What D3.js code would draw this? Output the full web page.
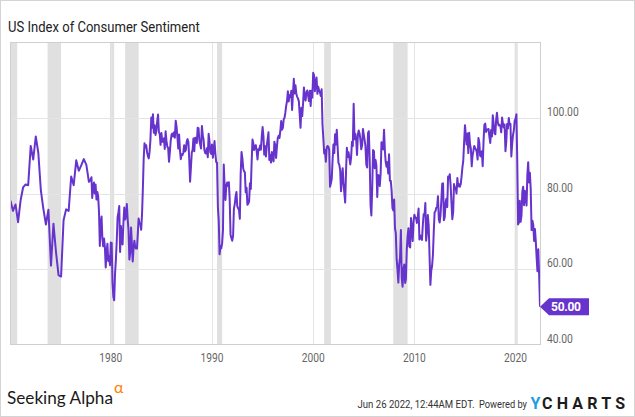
<!DOCTYPE html>
<html>
<head>
<meta charset="utf-8">
<script src="https://cdn.jsdelivr.net/npm/d3@7"></script>
<style>
  body { margin: 0; background: #fff; }
  svg { display: block; font-family: Roboto, "Open Sans", sans-serif; }
</style>
</head>
<body>
<div id="chart"></div>
<script>
// quarterly readings (Feb, May, Aug, Nov), 1970-1977
var q1970s = [
  78.1, 75.4, 77.1, 72.4,
  78.2, 81.6, 82.4, 82.2,
  92.6, 89.0, 95.1, 90.8,
  80.8, 76.0, 71.8, 75.7,
  60.9, 72.0, 64.5, 58.4,
  58.0, 72.9, 75.8, 75.4,
  84.5, 82.2, 88.8, 86.0,
  87.5, 89.1, 87.6, 83.1
];

// monthly, Jan 1978 - Dec 1989
var m1978 = [
  83.7, 84.3, 78.8, 81.6, 82.9, 80.0, 82.4, 78.4, 80.4, 79.3, 75.0, 66.1,
  72.1, 73.9, 68.4, 66.0, 68.1, 65.8, 60.4, 64.5, 66.7, 62.1, 63.3, 61.0,
  67.0, 66.9, 56.5, 52.7, 51.7, 58.7, 62.3, 67.3, 73.7, 75.0, 76.7, 64.5,
  71.4, 66.9, 66.5, 72.4, 76.3, 73.1, 74.1, 77.2, 73.1, 70.3, 62.5, 64.3,
  71.0, 66.5, 62.0, 65.5, 67.5, 65.7, 65.4, 65.4, 69.3, 73.4, 72.1, 71.9,
  70.4, 74.6, 80.8, 89.1, 93.3, 92.2, 92.8, 90.9, 89.9, 89.3, 91.1, 94.2,
  100.1, 97.4, 101.0, 96.1, 98.1, 95.5, 96.6, 99.1, 100.9, 96.3, 95.7, 92.9,
  96.0, 93.7, 93.7, 94.6, 91.8, 96.5, 94.0, 92.4, 92.1, 88.4, 90.9, 93.9,
  95.6, 95.9, 95.1, 96.2, 94.8, 99.3, 97.7, 94.9, 91.9, 95.6, 91.4, 89.1,
  90.4, 90.2, 90.8, 92.8, 91.1, 91.5, 93.7, 94.4, 93.6, 89.3, 83.1, 86.8,
  90.8, 91.6, 94.6, 91.2, 94.8, 94.7, 93.4, 97.4, 97.3, 94.1, 93.0, 91.9,
  97.9, 95.4, 94.3, 91.5, 90.7, 90.6, 92.0, 89.6, 95.8, 93.9, 90.9, 90.5
];

// monthly, Jan 1990 - Dec 1999
var m1990 = [
  93.0, 89.5, 91.3, 93.9, 90.6, 88.3, 88.2, 76.4, 72.8, 63.9, 66.0, 65.5,
  66.8, 70.4, 87.7, 81.8, 78.3, 82.1, 82.9, 82.0, 83.0, 78.3, 69.1, 68.2,
  67.5, 68.8, 76.0, 77.2, 79.2, 80.4, 76.6, 76.1, 75.6, 73.3, 85.3, 91.0,
  89.3, 86.6, 85.9, 85.6, 80.3, 81.5, 77.0, 77.3, 77.9, 82.7, 81.2, 88.2,
  94.3, 93.2, 91.5, 92.6, 92.8, 91.2, 89.0, 91.7, 91.5, 92.7, 91.6, 95.1,
  97.6, 95.1, 90.3, 92.5, 89.8, 92.7, 94.4, 96.2, 88.9, 90.2, 88.2, 91.0,
  89.3, 88.5, 93.7, 92.7, 89.4, 92.4, 94.7, 95.3, 94.7, 96.5, 99.2, 96.9,
  97.4, 99.7, 100.0, 101.4, 103.2, 104.5, 107.1, 104.4, 106.0, 105.6, 107.2, 102.1,
  106.6, 110.4, 106.5, 108.7, 106.5, 105.6, 105.2, 104.4, 100.9, 97.4, 102.7, 100.5,
  103.9, 108.1, 105.7, 104.6, 106.8, 107.3, 106.0, 104.5, 107.2, 103.2, 107.2, 105.4
];

// monthly, Jan 2000 - Dec 2009
var m2000 = [
  112.0, 111.3, 107.1, 109.2, 110.7, 106.4, 108.3, 107.3, 106.8, 105.8, 107.6, 98.4,
  94.7, 90.6, 91.5, 88.4, 92.0, 92.6, 92.4, 91.5, 81.8, 82.7, 83.9, 88.8,
  93.0, 90.7, 95.7, 93.0, 96.9, 92.4, 88.1, 87.6, 86.1, 80.6, 84.2, 86.7,
  82.4, 79.9, 77.6, 86.0, 92.1, 89.7, 90.9, 89.3, 87.7, 89.6, 93.7, 92.6,
  103.8, 94.4, 95.8, 94.2, 90.2, 95.6, 96.7, 95.9, 94.2, 91.7, 92.8, 97.1,
  95.5, 94.1, 92.6, 87.7, 86.9, 96.0, 96.5, 89.1, 76.9, 74.2, 81.6, 91.5,
  91.2, 86.7, 88.9, 87.4, 79.1, 84.9, 84.7, 82.0, 85.4, 93.6, 92.1, 91.7,
  96.9, 91.3, 88.4, 87.1, 88.3, 85.3, 90.4, 83.4, 83.4, 80.9, 76.1, 75.5,
  78.4, 70.8, 69.5, 62.6, 59.8, 56.4, 61.2, 63.0, 70.3, 57.6, 55.3, 60.1,
  61.2, 56.3, 57.3, 65.1, 68.7, 70.8, 66.0, 65.7, 73.5, 70.6, 67.4, 72.5
];

// monthly, Jan 2010 - Jun 2022
var m2010 = [
  74.4, 73.6, 73.6, 72.2, 73.6, 76.0, 67.8, 68.9, 68.2, 67.7, 71.6, 74.5,
  74.2, 77.5, 67.5, 69.8, 74.3, 71.5, 63.7, 55.8, 59.5, 60.8, 63.7, 69.9,
  75.0, 75.3, 76.2, 76.4, 79.3, 73.2, 72.3, 74.3, 78.3, 82.6, 82.7, 72.9,
  73.8, 77.6, 78.6, 76.4, 84.5, 84.1, 85.1, 82.1, 77.5, 73.2, 75.1, 82.5,
  81.2, 81.6, 80.0, 84.1, 81.9, 82.5, 81.8, 82.5, 84.6, 86.9, 88.8, 93.6,
  98.1, 95.4, 93.0, 95.9, 90.7, 96.1, 93.1, 91.9, 87.2, 90.0, 91.3, 92.6,
  92.0, 91.7, 91.0, 89.0, 94.7, 93.5, 90.0, 89.8, 91.2, 87.2, 93.8, 98.2,
  98.5, 96.3, 96.9, 97.0, 97.1, 95.0, 93.4, 96.8, 95.1, 100.7, 98.5, 95.9,
  95.7, 99.7, 101.4, 98.8, 98.0, 98.2, 97.9, 96.2, 100.1, 98.6, 97.5, 98.3,
  91.2, 93.8, 98.4, 97.2, 100.0, 98.2, 98.4, 89.8, 93.2, 95.5, 96.8, 99.3,
  99.8, 101.0, 89.1, 71.8, 72.3, 78.1, 72.5, 74.1, 80.4, 81.8, 76.9, 80.7,
  79.0, 76.8, 84.9, 88.3, 82.9, 85.5, 81.2, 70.3, 72.8, 71.7, 67.4, 70.6,
  67.2, 62.8, 59.4, 65.2, 58.4, 50.0
];

var recessions = [
  ["1969-12", "1970-10"],
  ["1973-10", "1975-02"],
  ["1979-12", "1980-05"],
  ["1981-06", "1982-10"],
  ["1990-07", "1991-01"],
  ["2001-02", "2001-10"],
  ["2007-12", "2009-05"],
  ["2019-12", "2020-03"]
];

var yTicks = [40, 60, 80, 100];
var xTickYears = [1980, 1990, 2000, 2010, 2020];

var parse = d3.timeParse("%Y-%m");

function series(start, step, vals) {
  var s = parse(start);
  return vals.map(function (v, i) {
    return { date: d3.timeMonth.offset(s, i * step), value: v };
  });
}

// squeeze text a bit, the original uses a narrower face
function condense(sel, k) {
  sel.each(function () {
    var w = this.getComputedTextLength();
    d3.select(this).attr("textLength", w * k).attr("lengthAdjust", "spacingAndGlyphs");
  });
}

// place text at x,y and scale it horizontally to a given width
function fitText(parent, str, px, py, width, attrs) {
  var t = parent.append("text").text(str);
  Object.keys(attrs).forEach(function (k) { t.attr(k, attrs[k]); });
  var w = t.node().getComputedTextLength();
  t.attr("transform", "translate(" + px + "," + py + ") scale(" + (width / w) + ",1)");
  return t;
}

var data = [].concat(
  series("1970-02", 3, q1970s),
  series("1978-01", 1, m1978),
  series("1990-01", 1, m1990),
  series("2000-01", 1, m2000),
  series("2010-01", 1, m2010)
);

var W = 635, H = 417;
var pL = 10.5, pR = 540, pT = 42.5, pB = 344.5;

var svg = d3.select("#chart").append("svg").attr("width", W).attr("height", H);

svg.append("rect")
  .attr("x", 0.5).attr("y", 0.5).attr("width", W - 1).attr("height", H - 1)
  .attr("fill", "#fff").attr("stroke", "#d4d4d4");

var x = d3.scaleTime()
  .domain([data[0].date, data[data.length - 1].date])
  .range([pL, pR]);
var y = d3.scaleLinear().domain([40, 120]).range([pB, pT]);

svg.append("clipPath").attr("id", "plot")
  .append("rect").attr("x", pL).attr("y", pT)
  .attr("width", pR - pL).attr("height", pB - pT);

var g = svg.append("g").attr("clip-path", "url(#plot)");

g.selectAll("rect.rec").data(recessions).join("rect")
  .attr("class", "rec")
  .attr("x", function (d) { return x(parse(d[0])); })
  .attr("width", function (d) { return Math.max(3, x(parse(d[1])) - x(parse(d[0]))); })
  .attr("y", pT).attr("height", pB - pT)
  .attr("fill", "#e0e0e0");

var xTicks = xTickYears.map(function (yr) { return new Date(yr, 0, 1); });

g.selectAll("line.vg").data(xTicks).join("line")
  .attr("x1", function (d) { return Math.round(x(d)) + 0.5; })
  .attr("x2", function (d) { return Math.round(x(d)) + 0.5; })
  .attr("y1", pT).attr("y2", pB)
  .attr("stroke", "#e4e4e4");

g.selectAll("line.hg").data(yTicks.slice(1)).join("line")
  .attr("x1", pL).attr("x2", pR)
  .attr("y1", function (d) { return Math.round(y(d)) + 0.5; })
  .attr("y2", function (d) { return Math.round(y(d)) + 0.5; })
  .attr("stroke", "#e4e4e4");

var line = d3.line()
  .x(function (d) { return x(d.date); })
  .y(function (d) { return y(d.value); });

g.append("path")
  .attr("d", line(data))
  .attr("fill", "none")
  .attr("stroke", "#6633cc")
  .attr("stroke-width", 2)
  .attr("stroke-linejoin", "round");

// plot frame
svg.append("rect")
  .attr("x", pL).attr("y", pT)
  .attr("width", pR - pL + 0.5).attr("height", pB - pT)
  .attr("fill", "none").attr("stroke", "#cfcfcf");

// axis labels
svg.selectAll("text.yl").data(yTicks).join("text")
  .attr("class", "yl")
  .attr("x", 547)
  .attr("y", function (d) { return y(d) - 2; })
  .attr("font-size", 12).attr("fill", "#666")
  .text(d3.format(".2f"))
  .call(condense, 0.86);

svg.selectAll("text.xl").data(xTicks).join("text")
  .attr("class", "xl")
  .attr("x", function (d) { return x(d); })
  .attr("y", 361.5)
  .attr("text-anchor", "middle")
  .attr("font-size", 12).attr("fill", "#666")
  .text(d3.timeFormat("%Y"))
  .call(condense, 0.85);

// last value tag
var last = data[data.length - 1];
var lx = x(last.date), ly = y(last.value);
svg.append("path")
  .attr("d", "M" + lx + "," + ly + "L" + (lx + 9) + "," + (ly - 8.5) + "H" + (lx + 49) +
    "V" + (ly + 8.5) + "H" + (lx + 9) + "Z")
  .attr("fill", "#6633cc");
svg.append("text")
  .attr("x", lx + 11).attr("y", ly + 4.5)
  .attr("font-size", 12).attr("font-weight", "bold")
  .attr("fill", "#fff")
  .attr("textLength", 30).attr("lengthAdjust", "spacing")
  .text(d3.format(".2f")(last.value));

// title
fitText(svg, "US Index of Consumer Sentiment", 8, 32, 192,
  { "font-size": 15, fill: "#222" });

// footer
fitText(svg, "Seeking Alpha", 7, 403.5, 106,
  { "font-family": "Lato, sans-serif", "font-size": 17, fill: "#1a1a1a" });
svg.append("text")
  .attr("x", 114).attr("y", 393)
  .attr("font-family", "Lato, sans-serif")
  .attr("font-size", 16).attr("fill", "#ff7f00")
  .text("α");

fitText(svg, "Jun 26 2022, 12:44AM EDT.", 357.5, 408, 117,
  { "font-size": 11, fill: "#333" });
fitText(svg, "Powered by", 479, 408, 48,
  { "font-size": 11, fill: "#333" });
svg.append("text")
  .attr("x", 530.5).attr("y", 409)
  .attr("font-size", 16).attr("font-weight", "bold").attr("fill", "#1e9ee0")
  .text("Y");
svg.append("text")
  .attr("x", 542).attr("y", 409)
  .attr("font-size", 16).attr("font-weight", "bold").attr("fill", "#1c1c1c")
  .attr("letter-spacing", 4.2)
  .text("CHARTS");
</script>
</body>
</html>
